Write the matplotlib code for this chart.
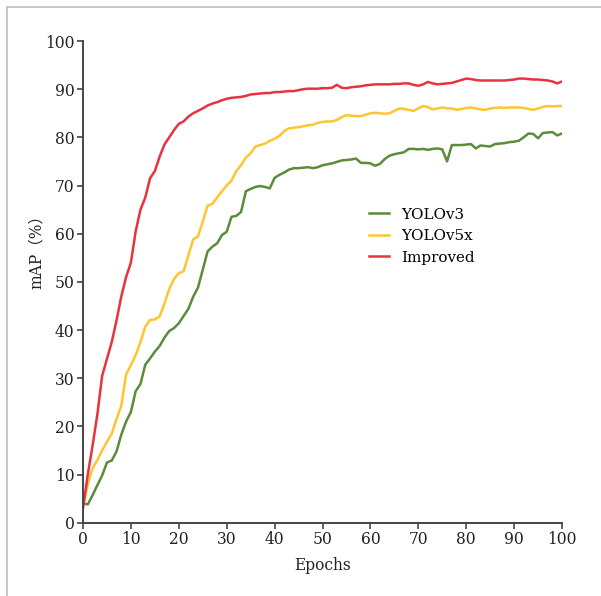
import matplotlib
matplotlib.use("Agg")
import matplotlib.pyplot as plt
from matplotlib.lines import Line2D
import numpy as np

epochs = np.arange(0, 101)

improved = [
    3.0, 10.0, 16.0, 22.5, 30.5, 34.0, 37.5, 42.0, 47.0, 51.0,
    54.0, 60.5, 65.0, 67.5, 71.5, 73.0, 76.0, 78.5, 80.0, 81.5,
    82.8, 83.3, 84.3, 85.0, 85.5, 86.0, 86.6, 87.0, 87.3, 87.7,
    88.0, 88.2, 88.3, 88.4, 88.6, 88.9, 89.0, 89.1, 89.2, 89.2,
    89.4, 89.4, 89.5, 89.6, 89.6, 89.8, 90.0, 90.1, 90.1, 90.1,
    90.2, 90.2, 90.3, 90.9, 90.3, 90.2, 90.4, 90.5, 90.6, 90.8,
    90.9, 91.0, 91.0, 91.0, 91.0, 91.1, 91.1, 91.2, 91.2, 90.9,
    90.7, 91.0, 91.5, 91.2, 91.0, 91.1, 91.2, 91.3, 91.6, 91.9,
    92.2, 92.1, 91.9, 91.8, 91.8, 91.8, 91.8, 91.8, 91.8, 91.9,
    92.0, 92.2, 92.2, 92.1, 92.0, 92.0, 91.9, 91.8, 91.6, 91.2,
    91.6,
]

yolov5x = [
    3.4, 8.0, 11.3, 13.0, 15.0, 16.8, 18.5, 21.5, 24.3, 30.8,
    32.7, 34.8, 37.5, 40.7, 42.1, 42.2, 42.8, 45.5, 48.5, 50.6,
    51.8, 52.2, 55.5, 58.8, 59.4, 62.5, 65.8, 66.2, 67.5, 68.8,
    70.0, 71.0, 73.0, 74.2, 75.8, 76.7, 78.1, 78.4, 78.7, 79.3,
    79.7, 80.3, 81.3, 81.9, 82.0, 82.1, 82.3, 82.5, 82.6, 83.0,
    83.2, 83.3, 83.3, 83.6, 84.2, 84.6, 84.5, 84.4, 84.4, 84.7,
    85.0, 85.1, 85.0, 84.9, 85.0, 85.5, 86.0, 85.9, 85.7, 85.5,
    86.0, 86.5, 86.3, 85.8, 86.0, 86.2, 86.0, 86.0, 85.7, 85.9,
    86.1, 86.2, 86.0, 85.8, 85.7, 86.0, 86.1, 86.2, 86.1, 86.2,
    86.2, 86.2, 86.1, 85.9, 85.7, 86.0, 86.3, 86.5, 86.4, 86.5,
    86.5,
]

yolov3 = [
    4.0, 3.8, 5.7, 7.8, 9.8, 12.5, 12.9, 14.8, 18.3, 21.0,
    23.0, 27.3, 28.8, 32.8, 34.1, 35.5, 36.7, 38.4, 39.8, 40.4,
    41.4, 42.9, 44.4, 46.9, 48.8, 52.5, 56.3, 57.3, 58.0, 59.7,
    60.4, 63.5, 63.7, 64.5, 68.8, 69.3, 69.7, 69.9, 69.7, 69.4,
    71.6, 72.2, 72.7, 73.3, 73.6, 73.6, 73.7, 73.8, 73.6, 73.8,
    74.2, 74.4, 74.6, 74.9, 75.2, 75.3, 75.4, 75.6, 74.7, 74.7,
    74.6, 74.1, 74.5, 75.5, 76.2, 76.5, 76.7, 76.9, 77.6, 77.6,
    77.5, 77.6, 77.4, 77.6, 77.7, 77.5, 75.0, 78.4, 78.4, 78.4,
    78.5, 78.6, 77.7, 78.3, 78.2, 78.1, 78.6, 78.7, 78.8, 79.0,
    79.1, 79.3, 80.0, 80.8, 80.7, 79.8, 80.9, 81.0, 81.1, 80.4,
    80.8,
]

labels = ["YOLOv3", "YOLOv5x", "Improved"]
colors = ["#5b8c3a", "#ffc530", "#e8323f"]

plt.rcParams['font.family'] = ['DejaVu Serif', 'Noto Sans CJK SC']

fig = plt.figure(figsize=(6.01, 5.96), dpi=100)
ax = fig.add_axes([83 / 601, 73.3 / 596, 479 / 601, 481.7 / 596])

for series, label, color in zip([yolov3, yolov5x, improved], labels, colors):
    ax.plot(epochs, series, color=color, lw=1.8, label=label)

ax.set_xlim(0, 100)
ax.set_ylim(0, 100)
ax.set_xticks(np.arange(0, 101, 10))
ax.set_yticks(np.arange(0, 101, 10))

for side in ["top", "right"]:
    ax.spines[side].set_visible(False)
for side in ["left", "bottom"]:
    ax.spines[side].set_color("#444444")
    ax.spines[side].set_linewidth(1.4)
ax.tick_params(direction="out", length=4, width=1.2, color="#444444",
               labelsize=11.2, labelcolor="#222222", pad=2)

ax.set_xlabel("Epochs", fontsize=11.2, color="#222222")
ax.xaxis.set_label_coords(0.5, -0.072)
ax.set_ylabel("mAP（%）", fontsize=11.2, color="#222222")
ax.yaxis.set_label_coords(-0.08, 0.57)

ax.legend(loc="center left", bbox_to_anchor=(0.597, 0.595), frameon=False,
          fontsize=10.9, handlelength=1.3, handletextpad=0.85,
          borderpad=0, borderaxespad=0, labelspacing=0.5)

# gray frame around the picture (only left and top visible)
fig.add_artist(Line2D([6.5 / 601, 6.5 / 601], [0, 1 - 6.5 / 596],
                      transform=fig.transFigure, color="#c4c4c4", lw=1.3))
fig.add_artist(Line2D([6.5 / 601, 1], [1 - 6.5 / 596, 1 - 6.5 / 596],
                      transform=fig.transFigure, color="#c4c4c4", lw=1.3))

fig.savefig("out.png", dpi=100)
